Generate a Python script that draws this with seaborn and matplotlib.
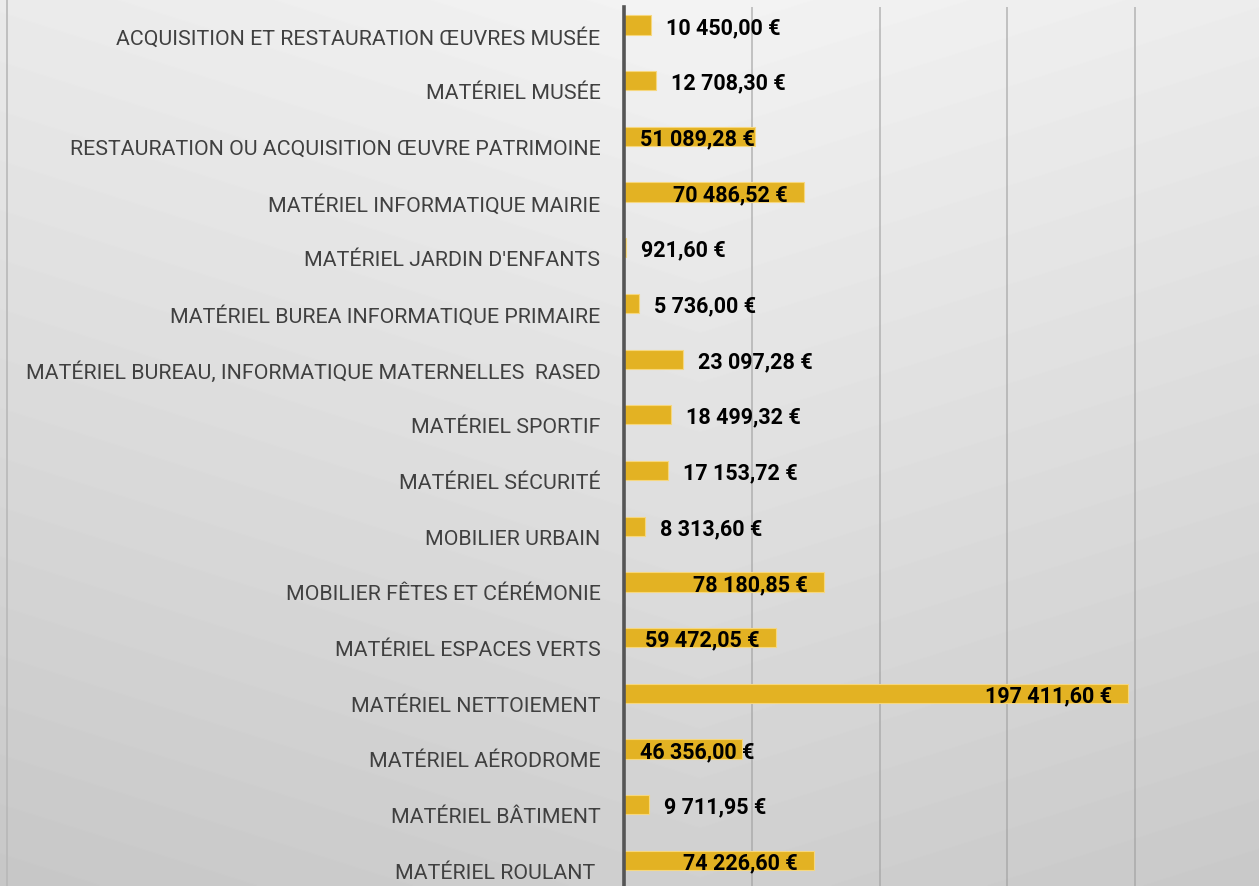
import numpy as np
import pandas as pd
import seaborn as sns
import matplotlib
matplotlib.use("Agg")
import matplotlib.pyplot as plt
import matplotlib.transforms as mtransforms
from matplotlib.lines import Line2D

# data (top to bottom)
categories = [
    "ACQUISITION ET RESTAURATION ŒUVRES MUSÉE",
    "MATÉRIEL MUSÉE",
    "RESTAURATION OU ACQUISITION ŒUVRE PATRIMOINE",
    "MATÉRIEL INFORMATIQUE MAIRIE",
    "MATÉRIEL JARDIN D'ENFANTS",
    "MATÉRIEL BUREA INFORMATIQUE PRIMAIRE",
    "MATÉRIEL BUREAU, INFORMATIQUE MATERNELLES  RASED",
    "MATÉRIEL SPORTIF",
    "MATÉRIEL SÉCURITÉ",
    "MOBILIER URBAIN",
    "MOBILIER FÊTES ET CÉRÉMONIE",
    "MATÉRIEL ESPACES VERTS",
    "MATÉRIEL NETTOIEMENT",
    "MATÉRIEL AÉRODROME",
    "MATÉRIEL BÂTIMENT",
    "MATÉRIEL ROULANT ",
]
amounts = [10450.00, 12708.30, 51089.28, 70486.52, 921.60, 5736.00, 23097.28,
           18499.32, 17153.72, 8313.60, 78180.85, 59472.05, 197411.60,
           46356.00, 9711.95, 74226.60]

df = pd.DataFrame({"poste": categories, "montant": amounts})


def euro(v):
    return f"{v:,.2f}".replace(",", " ").replace(".", ",") + " €"


sns.set_theme(style="white")
plt.rcParams["font.family"] = ["Roboto", "DejaVu Sans"]

W, H, DPI = 1259, 887, 100
fig = plt.figure(figsize=(W / DPI, H / DPI), dpi=DPI)

# gradient background
bg = fig.add_axes([0, 0, 1, 1], zorder=0)
yy, xx = np.mgrid[0:H, 0:W]
shade = 0.955 - 0.14 * (yy / H) - 0.035 * np.abs(xx - 700) / 700
bg.imshow(shade, cmap="gray", vmin=0, vmax=1, aspect="auto",
          extent=[0, 1, 0, 1], origin="upper")
bg.axis("off")
fig.add_artist(Line2D([6.5 / W, 6.5 / W], [0, 1], color="#B8B8B8", lw=1.2))

ax = fig.add_axes([624 / W, 0, 1 - 624 / W, 1 - 8 / H], zorder=1)
ax.patch.set_visible(False)

sns.barplot(data=df, x="montant", y="poste", orient="h", color="#E3B223",
            saturation=1, width=0.345, edgecolor="#F6D77E", linewidth=0.8,
            ax=ax, zorder=2)

ax.set_xlim(0, 248500)
ax.set_ylim(15.46, -0.323)
ax.set_xticks([0, 50000, 100000, 150000, 200000])
ax.set_xticklabels([])
ax.xaxis.grid(True, color="#9C9C9C", linewidth=1.3, alpha=0.6, zorder=0)
ax.set_axisbelow(True)
ax.set_xlabel("")
ax.set_ylabel("")
ax.tick_params(axis="both", length=0)
ax.tick_params(axis="y", pad=17, labelsize=15.4, labelcolor="#404040")
for side in ["top", "right", "bottom"]:
    ax.spines[side].set_visible(False)
ax.spines["left"].set_color("#555555")
ax.spines["left"].set_linewidth(2.6)
ax.spines["left"].set_zorder(3)

shift = mtransforms.ScaledTranslation(0, -10 / DPI, fig.dpi_scale_trans)
for lab in ax.get_yticklabels():
    lab.set_transform(lab.get_transform() + shift)

# value labels: inside end for the long bars, outside end for the short ones
fig.canvas.draw()
renderer = fig.canvas.get_renderer()
px_per_unit = ax.transData.transform((1, 0))[0] - ax.transData.transform((0, 0))[0]
for i, v in enumerate(amounts):
    if v > 40000:
        t = ax.annotate(euro(v), (v, i), xytext=(-16, -2), textcoords="offset pixels",
                        ha="right", va="center", fontsize=15.5, fontweight="bold",
                        color="black", zorder=4)
        w = t.get_window_extent(renderer).width
        if v * px_per_unit - 16 - w < 16:
            t.remove()
            ax.annotate(euro(v), (0, i), xytext=(16, -2), textcoords="offset pixels",
                        ha="left", va="center", fontsize=15.5, fontweight="bold",
                        color="black", zorder=4)
    else:
        ax.annotate(euro(v), (v, i), xytext=(15, -2), textcoords="offset pixels",
                    ha="left", va="center", fontsize=15.5, fontweight="bold",
                    color="black", zorder=4)

fig.savefig("out.png", dpi=DPI)
